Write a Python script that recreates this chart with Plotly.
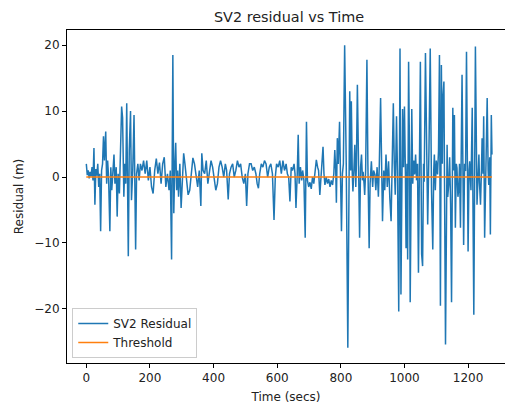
import plotly.graph_objects as go

# Time (secs) of each residual sample
time_s = [
    0, 3, 6, 9, 12, 15, 18, 21, 24, 27, 30, 33, 36, 39, 42, 45, 48, 51, 54, 57,
    61, 64, 67, 70, 74, 77, 80, 84, 87, 90, 94, 97, 100, 104, 107, 111, 114, 118, 121, 124,
    127, 132, 135, 139, 142, 146, 150, 155, 158, 162, 166, 170, 175, 180, 185, 190, 195,
    200, 205, 210, 215, 220, 225, 230, 235, 240, 245, 250, 255, 260, 264, 268, 272, 275, 278, 281, 284,
    287, 290, 294, 298, 302, 306, 310, 315, 320, 325, 330, 335, 340, 345, 350, 355, 360, 363, 367, 372,
    377, 382, 387, 392, 397, 402, 407, 412, 417, 422, 427, 432,
    437, 441, 446, 450, 455, 460, 465, 470, 475, 480, 485, 490, 495, 500, 504, 508, 513, 518, 523, 528,
    533, 537, 541, 545, 550, 555, 560, 565, 570, 575, 580, 585, 590, 594, 598, 603, 608, 613, 618, 623,
    628, 632, 636, 640, 644, 648, 653, 656, 659, 663, 666, 669, 673, 677,
    680, 684, 688, 692, 695, 699, 703, 707, 711, 715, 719, 723, 727, 730, 734, 738, 741, 744, 747, 750,
    754, 758, 762, 766, 770, 774, 778, 781, 784, 786, 789, 792, 796, 799, 802, 805, 808, 812, 817, 822,
    826, 828, 831, 833, 836, 838, 841, 844, 847, 849, 852, 856, 859, 862, 865, 868, 870, 873, 875, 878,
    882, 885, 889, 892, 896, 900, 903, 907, 910, 914, 918, 921, 925,
    931, 935, 938, 942, 946, 950, 954, 958, 961, 965, 968, 971, 975, 978, 982, 986, 989, 992, 994, 997,
    1000, 1003, 1005, 1008, 1010, 1013, 1016, 1018, 1021, 1023, 1026, 1029, 1032, 1035, 1038, 1041, 1044, 1047, 1050, 1054,
    1057, 1060, 1062, 1066, 1069, 1073, 1077, 1081, 1085, 1089, 1092, 1094, 1097, 1100, 1104, 1107, 1110, 1113, 1116, 1119,
    1121, 1124, 1129, 1134, 1136, 1139, 1142, 1145, 1148, 1152, 1154, 1157, 1160, 1163, 1165, 1168, 1171, 1173, 1176, 1181,
    1186, 1189, 1192, 1195, 1200, 1203, 1205, 1209, 1213, 1218, 1223, 1228, 1231, 1234, 1236, 1239, 1242, 1244, 1247, 1249,
    1252, 1256, 1260, 1263, 1265, 1268, 1270, 1273, 1275,
]

# SV2 residual (m)
residual_m = [
    2.0, 0.3, 1.0, -0.2, 0.8, 0.1, 1.5, -0.5, 4.4, -4.2, 1.2, 0.2, 2.0, -1.5, 0.5, -8.2, 1.0, 2.0, 6.2, 2.5,
    6.9, -1.0, 2.5, 0.0, -8.2, 1.5, -2.0, 0.5, 3.4, -1.0, 1.5, -6.0, 0.5, -2.5, 3.0, 10.7, 9.0, -3.0, 2.0, -1.0,
    11.2, -12.0, 4.0, 10.0, -3.5, 1.0, 9.4, -11.0, 0.5, 2.0, -0.5, 2.0, 1.0, 2.5, 0.5, 2.5, -0.5,
    1.5, -1.5, -2.5, 1.0, 2.8, 0.5, 2.2, -1.0, 2.0, 3.0, -1.5, 0.5, -2.0, 1.0, -12.5, 18.5, -5.5, 1.5, 5.2, -2.0,
    1.0, -3.0, 2.0, -4.7, 1.0, 3.6, 2.0, -0.5, -2.7, -2.0, 0.5, 2.9, 2.0, 0.5, -1.5, 1.0, -4.4, 3.6, 1.0, 0.5,
    2.5, -1.0, 1.0, 2.5, 1.5, -0.5, -2.0, -1.0, 1.5, 2.5, 1.5, 0.0,
    2.0, 1.0, -3.4, 0.5, 1.5, 2.0, 0.0, 1.0, 2.5, 1.5, 2.0, 0.0, -1.0, 0.5, -4.4, 0.5, 2.0, 2.0, 1.0, 1.5,
    0.5, -1.0, -1.7, 0.5, 2.0, 1.5, 2.5, 2.0, 0.0, 1.5, 2.0, 0.5, -6.5, 0.0, 2.0, 1.5, 2.5, 0.5, 2.5, 1.0,
    2.0, 0.5, 0.0, -3.7, 1.5, 1.0, 2.0, 0.5, -4.7, 0.5, 6.4, -1.0, 1.5, -0.5,
    1.0, -0.5, -9.2, 8.4, -0.5, -1.5, -0.8, -1.8, 0.0, -1.0, 0.5, 2.6, 1.5, 1.0, -2.7, 0.5, 1.5, 4.6, 0.5, -1.2,
    0.0, -1.0, -0.3, -1.5, -0.5, -1.2, 0.5, 4.1, 1.0, -3.9, 5.9, 2.0, 8.4, 1.0, -8.2, 0.5, 2.0, 20.0, 2.0, -25.9,
    4.0, 13.0, 1.0, 11.5, 0.5, -2.2, 1.0, 4.9, -1.5, 2.0, 14.0, 0.5, -9.2, 1.5, 3.4, -0.5, 0.8, -1.0, -2.7, 1.0,
    17.8, 2.0, -10.8, -1.0, 2.4, -1.5, 1.0, 0.4, -2.0, 1.5, -3.0, 2.0, 12.0,
    -6.7, 1.0, -2.0, 3.4, -1.5, 2.4, -3.2, -6.7, 1.0, 11.2, 2.0, -2.7, 9.2, 1.0, -20.4, 19.5, -17.8, 2.0, 10.3, 1.5,
    10.7, 0.5, -10.8, 2.0, -12.5, 17.5, 3.0, -19.0, 0.0, 10.3, -1.0, 2.5, 0.4, 3.4, -0.5, 2.0, -14.5, 1.0, 17.5, -11.7,
    -13.5, 2.0, -0.7, 18.8, 3.0, -7.2, 4.0, 19.5, -2.0, -11.0, 1.0, 3.4, -2.0, 2.5, 0.4, 4.0, 18.5, -19.5, 17.0, 2.0,
    12.0, 14.5, -25.4, 4.9, -3.0, -1.2, 3.0, -4.0, -19.0, 10.5, 1.0, 9.4, -7.7, 2.0, 1.4, -3.0, -1.7, 2.0, -7.7, 15.5,
    -10.3, 2.0, 0.9, 19.0, -11.3, 1.0, 2.4, -2.0, 10.5, -20.9, 19.8, -4.2, 1.0, 3.4, -1.0, -4.2, 1.0, 5.9, 0.5, 9.2,
    -9.2, 2.0, 12.0, 1.0, -1.2, 3.0, -8.7, 9.4, 3.4,
]

threshold_t = [0, 1275]
threshold_v = [0.0, 0.0]

x_ticks = [0, 200, 400, 600, 800, 1000, 1200]
y_ticks = [-20, -10, 0, 10, 20]

assert len(time_s) == len(residual_m)

FONT = "DejaVu Sans"
TXT = "#222222"

fig = go.Figure()
fig.add_trace(go.Scatter(x=time_s, y=residual_m, mode="lines", name="SV2 Residual",
                         line=dict(color="#1f77b4", width=1.5)))
fig.add_trace(go.Scatter(x=threshold_t, y=threshold_v, mode="lines", name="Threshold",
                         line=dict(color="#ff7f0e", width=1.5)))

axis_common = dict(showgrid=False, zeroline=False, showline=True, linecolor="black", linewidth=1,
                   ticks="outside", ticklen=4, tickwidth=1, tickcolor="black",
                   tickfont=dict(family=FONT, size=12, color=TXT))

fig.update_layout(
    width=505, height=405,
    margin=dict(l=67, r=0, t=30, b=42),
    paper_bgcolor="white", plot_bgcolor="white",
    font=dict(family=FONT, size=12, color=TXT),
    title=dict(text="SV2 residual vs Time", x=289 / 505, xanchor="center",
               y=1 - 17 / 405, yanchor="middle", font=dict(family=FONT, size=14.4, color=TXT)),
    xaxis=dict(range=[-60.7, 1316], tickvals=x_ticks, mirror=True,
               title=dict(text="Time (secs)", standoff=8, font=dict(family=FONT, size=12)),
               **axis_common),
    yaxis=dict(range=[-28.2, 22.3], tickvals=y_ticks,
               title=dict(text="Residual (m)", standoff=8, font=dict(family=FONT, size=12)),
               **axis_common),
    legend=dict(x=0.012, y=0.015, xanchor="left", yanchor="bottom", bgcolor="white",
                bordercolor="#cccccc", borderwidth=1, itemwidth=30, tracegroupgap=0,
                font=dict(family=FONT, size=12, color=TXT)),
    showlegend=True,
)

fig.write_html("out.html", config={"displayModeBar": False})
